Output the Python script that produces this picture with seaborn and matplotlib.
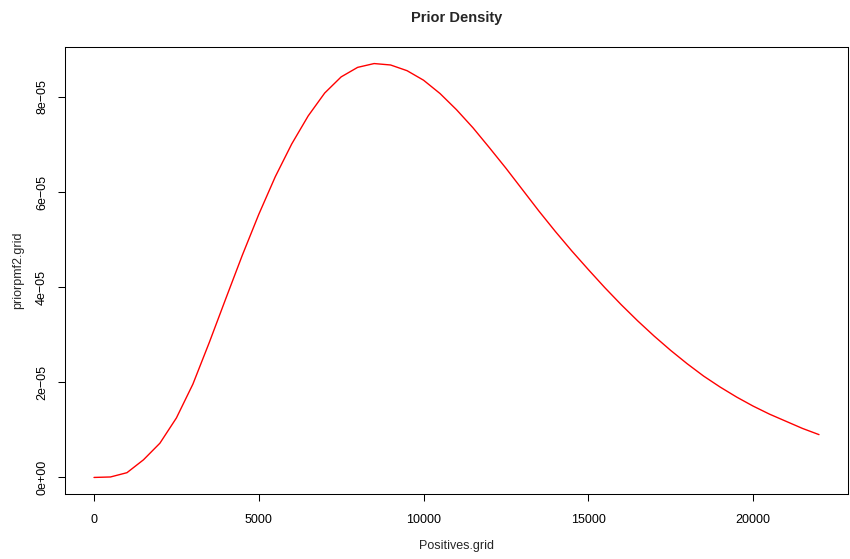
import matplotlib
matplotlib.use("Agg")
import matplotlib.pyplot as plt
import seaborn as sns
import pandas as pd

# Data
positives_grid = [0, 500, 1000, 1500, 2000, 2500, 3000, 3500, 4000, 4500,
                  5000, 5500, 6000, 6500, 7000, 7500, 8000, 8500, 9000, 9500,
                  10000, 10500, 11000, 11500, 12000, 12500, 13000, 13500, 14000, 14500,
                  15000, 15500, 16000, 16500, 17000, 17500, 18000, 18500, 19000, 19500,
                  20000, 20500, 21000, 21500, 22000]
priorpmf2_e5 = [0.00, 0.01, 0.10, 0.37, 0.72, 1.25, 1.96, 2.84, 3.76, 4.67,
                5.53, 6.32, 7.01, 7.60, 8.08, 8.42, 8.62, 8.70, 8.67, 8.55,
                8.35, 8.07, 7.73, 7.35, 6.93, 6.50, 6.05, 5.60, 5.17, 4.76,
                4.37, 3.99, 3.63, 3.29, 2.97, 2.67, 2.39, 2.13, 1.90, 1.69,
                1.50, 1.33, 1.18, 1.03, 0.90]
priorpmf2_grid = [v * 1e-5 for v in priorpmf2_e5]

x_ticks = [0, 5000, 10000, 15000, 20000]
x_tick_labels = ["0", "5000", "10000", "15000", "20000"]
y_ticks = [0, 2e-5, 4e-5, 6e-5, 8e-5]
y_tick_labels = ["0e+00", "2e\u221205", "4e\u221205", "6e\u221205", "8e\u221205"]

df = pd.DataFrame({"Positives.grid": positives_grid, "priorpmf2.grid": priorpmf2_grid})

sns.set_style("white")
plt.rcParams["font.family"] = ["Liberation Sans", "DejaVu Sans"]

W, H = 850, 559
fig = plt.figure(figsize=(W / 100, H / 100), dpi=100)
left, right, top, bottom = 65, 848, 47, 494
ax = fig.add_axes([left / W, 1 - bottom / H, (right - left) / W, (bottom - top) / H])

sns.lineplot(data=df, x="Positives.grid", y="priorpmf2.grid", ax=ax,
             color="#ff0000", linewidth=1.0, estimator=None, sort=False)

xmin, xmax = 0, 22000
ymin, ymax = 0, max(priorpmf2_grid)
ax.set_xlim(xmin - 0.04 * (xmax - xmin), xmax + 0.04 * (xmax - xmin))
ax.set_ylim(ymin - 0.04 * (ymax - ymin), ymax + 0.04 * (ymax - ymin))

ax.set_xticks(x_ticks)
ax.set_xticklabels(x_tick_labels)
ax.set_yticks(y_ticks)
ax.set_yticklabels(y_tick_labels)
plt.setp(ax.get_yticklabels(), rotation=90, va="center")

ax.tick_params(axis="both", which="major", direction="out", length=5, width=0.75,
               color="black", labelsize=9, labelcolor="black", bottom=True, left=True)
ax.tick_params(axis="x", pad=9.5)
ax.tick_params(axis="y", pad=7.2)

for s in ax.spines.values():
    s.set_visible(True)
    s.set_color("black")
    s.set_linewidth(0.75)

ax.set_xlabel("Positives.grid", fontsize=9)
ax.set_ylabel("priorpmf2.grid", fontsize=9)
ax.xaxis.label.set_va("center")
ax.yaxis.label.set_va("center")
ax.xaxis.set_label_coords(0.5, (bottom - 546) / (bottom - top))
ax.yaxis.set_label_coords((18.5 - left) / (right - left), 0.5)

fig.text((left + right) / 2 / W, 1 - 18 / H, "Prior Density", ha="center", va="center",
         fontsize=10.5, fontweight="bold")

fig.savefig("out.png", dpi=100)
